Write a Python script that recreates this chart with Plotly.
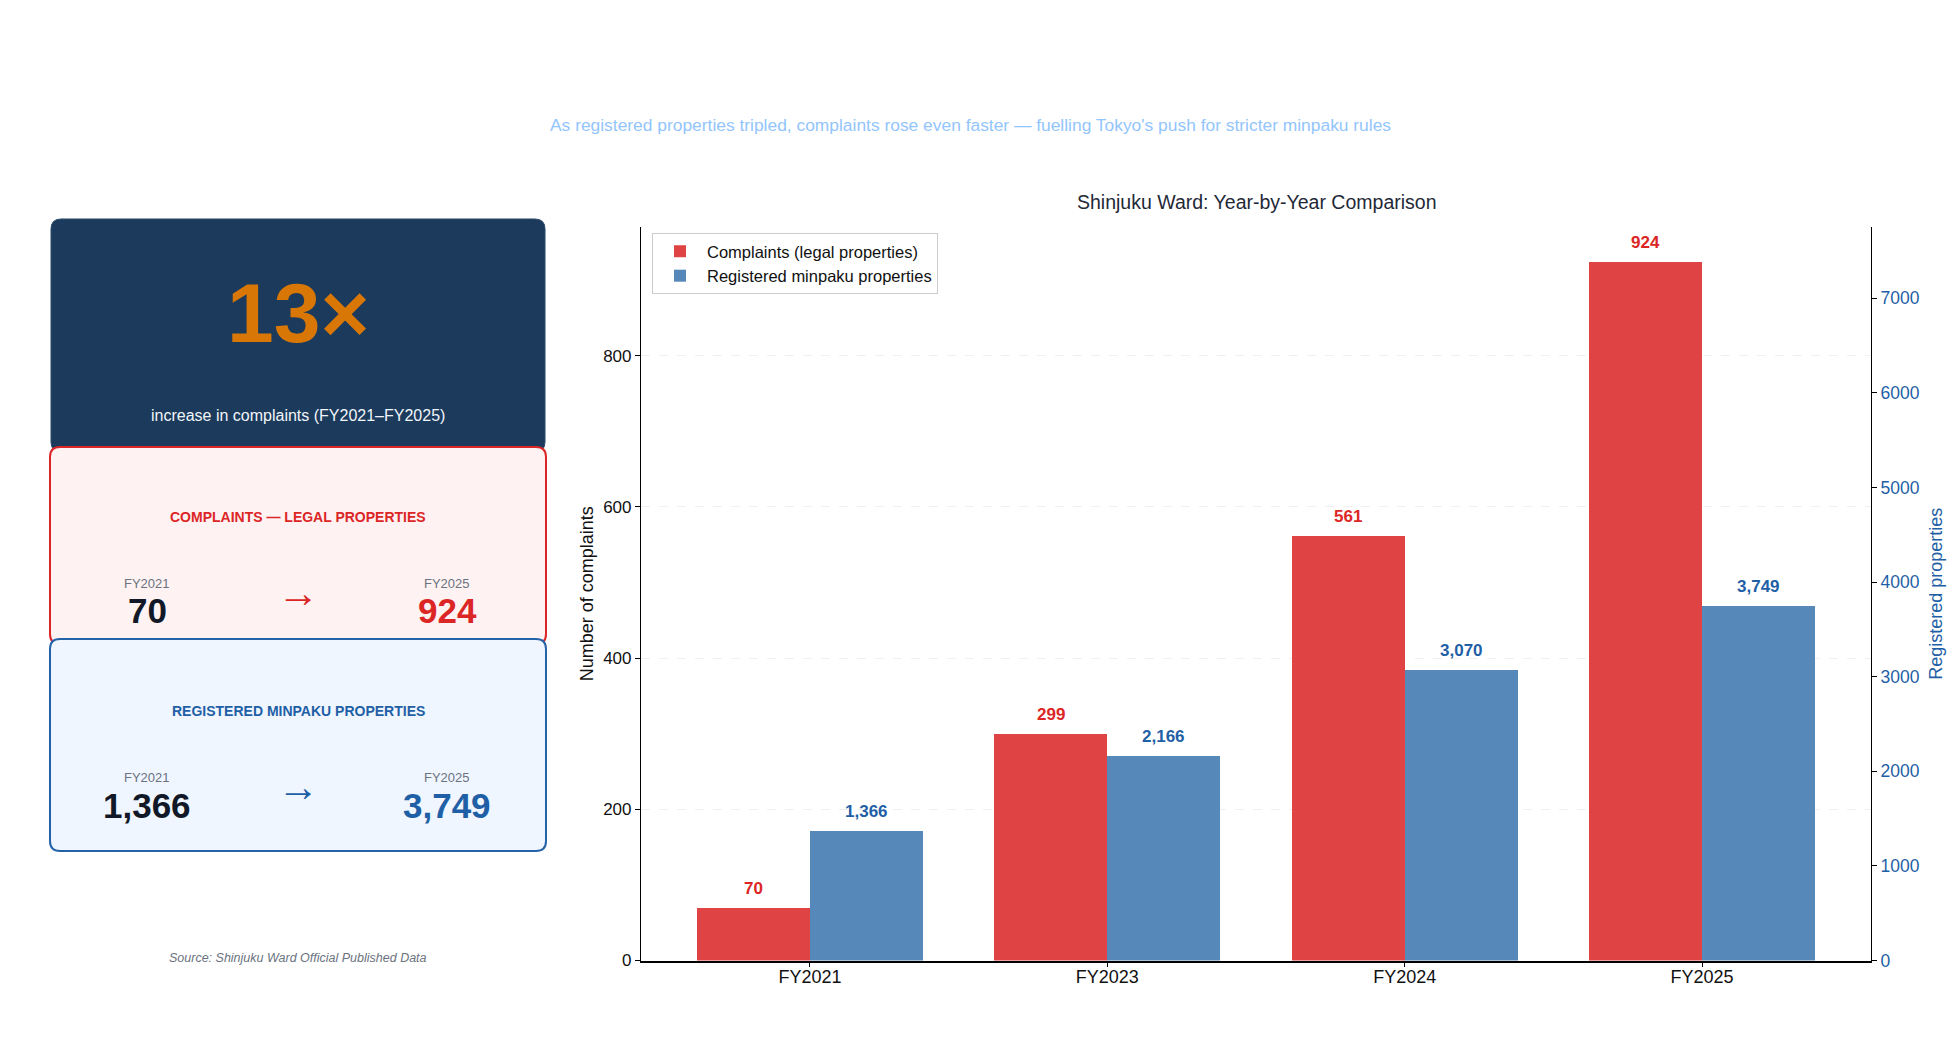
import plotly.graph_objects as go

# ---------------- data ----------------
years = ["FY2021", "FY2023", "FY2024", "FY2025"]
complaints = [70, 299, 561, 924]
registered = [1366, 2166, 3070, 3749]
complaint_labels = ["70", "299", "561", "924"]
registered_labels = ["1,366", "2,166", "3,070", "3,749"]
left_ticks = [0, 200, 400, 600, 800]
right_ticks = [0, 1000, 2000, 3000, 4000, 5000, 6000, 7000]

multiplier_text = "13×"
multiplier_caption = "increase in complaints (FY2021–FY2025)"
card_titles = ["COMPLAINTS — LEGAL PROPERTIES", "REGISTERED MINPAKU PROPERTIES"]
card_start = [("FY2021", "70"), ("FY2021", "1,366")]
card_end = [("FY2025", "924"), ("FY2025", "3,749")]

subtitle = "As registered properties tripled, complaints rose even faster — fuelling Tokyo's push for stricter minpaku rules"
chart_title = "Shinjuku Ward: Year-by-Year Comparison"
source = "Source: Shinjuku Ward Official Published Data"

# ---------------- styling ----------------
W, H = 1956, 1046
FONT = "Liberation Sans, Arial, sans-serif"
RED = "#dc2626"
RED_BAR = "rgb(224,67,67)"
BLUE = "#1f5fa6"
BLUE_BAR = "rgb(86,136,185)"
NAVY = "#1b3a5c"
AMBER = "#d97706"
DARK = "#111827"
GRAY = "#6b7280"


def px(x):
    return x / W


def py(y):
    return 1 - y / H


def rrect(x0, y0, x1, y1, r):
    pts = [
        ("M", (x0 + r, y0)), ("L", (x1 - r, y0)), ("Q", (x1, y0), (x1, y0 + r)),
        ("L", (x1, y1 - r)), ("Q", (x1, y1), (x1 - r, y1)),
        ("L", (x0 + r, y1)), ("Q", (x0, y1), (x0, y1 - r)),
        ("L", (x0, y0 + r)), ("Q", (x0, y0), (x0 + r, y0)),
    ]
    s = ""
    for p in pts:
        s += p[0] + " " + " ".join(f"{px(a):.6f},{py(b):.6f}" for a, b in p[1:]) + " "
    return s + "Z"


BW = 0.38
xs = list(range(len(years)))

fig = go.Figure()
fig.add_trace(go.Bar(
    x=xs, y=complaints, name="Complaints (legal properties)",
    marker=dict(color=RED_BAR, line=dict(width=0)),
    width=BW, offset=-BW, yaxis="y", hoverinfo="skip",
))
fig.add_trace(go.Bar(
    x=xs, y=registered, name="Registered minpaku properties",
    marker=dict(color=BLUE_BAR, line=dict(width=0)),
    width=BW, offset=0, yaxis="y2", hoverinfo="skip",
))

annotations = []
for i, (v, lab) in enumerate(zip(complaints, complaint_labels)):
    annotations.append(dict(x=i - BW / 2, y=v, xref="x", yref="y", text=f"<b>{lab}</b>",
                            showarrow=False, yanchor="bottom", yshift=8,
                            font=dict(size=17, color=RED, family=FONT)))
for i, (v, lab) in enumerate(zip(registered, registered_labels)):
    annotations.append(dict(x=i + BW / 2, y=v, xref="x", yref="y2", text=f"<b>{lab}</b>",
                            showarrow=False, yanchor="bottom", yshift=8,
                            font=dict(size=17, color=BLUE, family=FONT)))


def txt(x, y, text, size, color, bold=False, italic=False):
    t = text
    if bold:
        t = f"<b>{t}</b>"
    if italic:
        t = f"<i>{t}</i>"
    annotations.append(dict(x=px(x), y=py(y), xref="paper", yref="paper", text=t,
                            showarrow=False, xanchor="center", yanchor="middle",
                            font=dict(size=size, color=color, family=FONT)))


txt(970, 125, subtitle, 17.4, "#93c5fd")
txt(1257, 202, chart_title, 19.5, "#1f2937")

# KPI cards
txt(298, 313, multiplier_text, 84, AMBER, bold=True)
txt(298, 415, multiplier_caption, 16, "#f1f5f9")

card_y = [(517, 583, 610, 592), (711, 777, 805, 786)]
title_colors = [RED, BLUE]
end_colors = [RED, BLUE]
for k in range(2):
    ty, ly, vy, ay = card_y[k]
    txt(298, ty, card_titles[k], 14, title_colors[k], bold=True)
    txt(147, ly, card_start[k][0], 13, GRAY)
    txt(147, vy, card_start[k][1], 35, DARK, bold=True)
    txt(447, ly, card_end[k][0], 13, GRAY)
    txt(447, vy, card_end[k][1], 35, end_colors[k], bold=True)
    txt(298, ay, "→", 42, title_colors[k])

txt(298, 958, source, 12.5, GRAY, italic=True)

shapes = [
    dict(type="path", xref="paper", yref="paper", path=rrect(51, 219, 545, 452, 10),
         fillcolor=NAVY, line=dict(color="#2b4a6c", width=1), layer="below"),
    dict(type="path", xref="paper", yref="paper", path=rrect(50, 447, 546, 644, 10),
         fillcolor="#fef2f2", line=dict(color=RED, width=2), layer="below"),
    dict(type="path", xref="paper", yref="paper", path=rrect(50, 639, 546, 851, 10),
         fillcolor="#eff6ff", line=dict(color="#2563a8", width=2), layer="below"),
]

fig.update_layout(
    width=W, height=H, autosize=False,
    margin=dict(l=0, r=0, t=0, b=0),
    paper_bgcolor="white", plot_bgcolor="white",
    font=dict(family=FONT, color="#111"),
    showlegend=True,
    legend=dict(x=px(652), y=py(233), xanchor="left", yanchor="top",
                bgcolor="white", bordercolor="#cccccc", borderwidth=1,
                itemwidth=44, tracegroupgap=0,
                font=dict(size=16.5, color="#111", family=FONT), traceorder="normal"),
    xaxis=dict(domain=[px(641), px(1871)], range=[-0.568, 3.568],
               tickmode="array", tickvals=xs, ticktext=years,
               tickfont=dict(size=18, color="#111"),
               showline=True, linecolor="black", linewidth=1.8,
               ticks="outside", ticklen=5, tickcolor="black",
               ticklabelstandoff=-6,
               showgrid=False, zeroline=False, automargin=False),
    yaxis=dict(domain=[py(960.5), py(227)], range=[0, 970.2],
               tickmode="array", tickvals=left_ticks,
               tickfont=dict(size=17, color="#111"),
               showline=True, linecolor="black", linewidth=1.2,
               ticks="outside", ticklen=5, tickcolor="black",
               showgrid=True, gridcolor="#f0f0f0", griddash="dash", gridwidth=0.8,
               zeroline=False, automargin=False,
               title=dict(text="Number of complaints", font=dict(size=18, color="#111"),
                          standoff=4)),
    yaxis2=dict(overlaying="y", side="right", anchor="x", range=[0, 7753],
                tickmode="array", tickvals=right_ticks,
                tickfont=dict(size=17.5, color=BLUE),
                showline=True, linecolor="black", linewidth=1.2,
                ticks="outside", ticklen=5, tickcolor="black",
                showgrid=False, zeroline=False, automargin=False,
                title=dict(text="Registered properties", font=dict(size=18, color=BLUE),
                           standoff=10)),
    annotations=annotations,
    shapes=shapes,
    bargap=0,
)

fig.write_html("out.html")
